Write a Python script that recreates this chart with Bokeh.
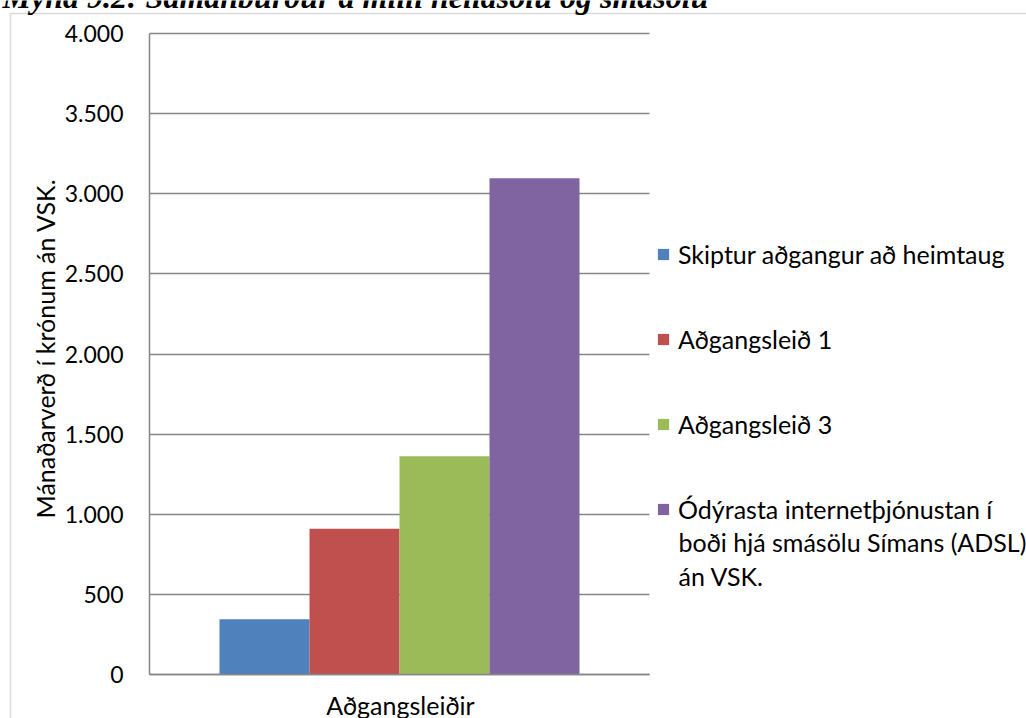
from bokeh.plotting import figure
from bokeh.models import (Range1d, FixedTicker, Label, Legend, LegendItem,
                          BoxAnnotation, Grid)
from bokeh.embed import file_html
from bokeh.resources import INLINE

# ---------------- data ----------------
title_text = "Mynd 9.2: Samanburður á milli heildsölu og smásölu"
category = ["Aðgangsleiðir"]
series_names = [
    "Skiptur aðgangur að heimtaug",
    "Aðgangsleið 1",
    "Aðgangsleið 3",
    "Ódýrasta internetþjónustan í",
]
series_name_cont = "boði hjá smásölu Símans (ADSL)\nán VSK."
series_values = [345, 909, 1362, 3097]
series_colors = ["#4F81BD", "#C0504D", "#9BBB59", "#8064A2"]
y_ticks = [0, 500, 1000, 1500, 2000, 2500, 3000, 3500, 4000]
y_tick_labels = ["0", "500", "1.000", "1.500", "2.000", "2.500", "3.000", "3.500", "4.000"]
y_axis_title = "Mánaðarverð í krónum án VSK."
x_axis_title = "Aðgangsleiðir"

# ---------------- layout ----------------
W, H = 1026, 718
FL, FR, FT, FB = 149, 649, 33, 674   # plot-area edges in pixels
Y0, Y1 = 0, 4000
NCAT = len(category)

def px_to_x(px):
    return (px - FL) / (FR - FL) * NCAT

def py_to_y(py):
    return Y0 + (FB - py) / (FB - FT) * (Y1 - Y0)

FONT = "Lato"
GRID = "#868686"

p = figure(width=W, height=H, x_range=Range1d(px_to_x(0), px_to_x(W)),
           y_range=Range1d(py_to_y(H), py_to_y(0)), output_backend="svg",
           toolbar_location=None, min_border=0)
p.outline_line_color = None
p.background_fill_color = "white"
p.border_fill_color = "white"

# outer chart-area border (only its left and top edges are inside the crop)
p.add_layout(BoxAnnotation(left=px_to_x(10), right=px_to_x(W + 60), top=py_to_y(13),
                           bottom=py_to_y(H + 60), fill_color=None, line_color=GRID,
                           line_width=1.5, level="underlay"))

# bars (clustered, one category)
bar_w = 0.18
renderers = []
for i, (val, col) in enumerate(zip(series_values, series_colors)):
    off = (i - (len(series_values) - 1) / 2) * bar_w
    xs = [k + 0.5 + off for k in range(NCAT)]
    r = p.vbar(x=xs, top=[val], bottom=0, width=bar_w, fill_color=col, line_color=None)
    renderers.append(r)

# y axis
ya = p.yaxis[0]
ya.fixed_location = 0
ya.bounds = (Y0, Y1)
ya.ticker = FixedTicker(ticks=y_ticks)
ya.major_label_overrides = {t: l for t, l in zip(y_ticks, y_tick_labels)}
ya.major_label_text_font = FONT
ya.major_label_text_font_size = "23px"
ya.major_label_text_color = "black"
ya.major_label_standoff = 26
ya.major_tick_line_color = None
ya.major_tick_out = 0
ya.major_tick_in = 0
ya.minor_tick_line_color = None
ya.axis_line_color = GRID
ya.axis_line_width = 1.5

# x axis (line only)
xa = p.xaxis[0]
xa.fixed_location = Y0
xa.bounds = (0, NCAT)
xa.ticker = FixedTicker(ticks=[])
xa.major_tick_line_color = None
xa.minor_tick_line_color = None
xa.major_tick_out = 0
xa.axis_line_color = GRID
xa.axis_line_width = 1.5

# horizontal gridlines limited to the plot area
p.xgrid.visible = False
yg = p.ygrid[0]
yg.ticker = FixedTicker(ticks=y_ticks)
yg.grid_line_color = GRID
yg.grid_line_width = 1.5
if "cross_bounds" in Grid.properties():
    yg.cross_bounds = (0, NCAT)
else:
    yg.visible = False
    p.segment(x0=0, x1=NCAT, y0=y_ticks, y1=y_ticks, line_color=GRID,
              line_width=1.5, level="underlay")

# titles
p.add_layout(Label(x=px_to_x(2), y=py_to_y(-3.5), text=title_text,
                   text_font="Liberation Serif", text_font_style="bold italic",
                   text_font_size="32px", text_color="black",
                   text_align="left", text_baseline="middle"))
p.add_layout(Label(x=px_to_x(44), y=py_to_y(348), text=y_axis_title, angle=90,
                   angle_units="deg", text_font=FONT, text_font_size="25px",
                   text_color="black", text_align="center", text_baseline="middle"))
p.add_layout(Label(x=px_to_x(400), y=py_to_y(704), text=x_axis_title,
                   text_font=FONT, text_font_size="25px", text_color="black",
                   text_align="center", text_baseline="middle"))

# legend
legend = Legend(items=[LegendItem(label=n, renderers=[r]) for n, r in zip(series_names, renderers)],
                location=(656, H - 524), glyph_width=14, glyph_height=14, label_standoff=8,
                label_text_font=FONT, label_text_font_size="25px", label_text_color="black",
                padding=0, margin=0, spacing=55, border_line_color=None,
                background_fill_alpha=0)
p.add_layout(legend)
p.add_layout(Label(x=px_to_x(678), y=py_to_y(526), text=series_name_cont,
                   text_font=FONT, text_font_size="25px", text_color="black",
                   text_line_height=1.16, text_align="left", text_baseline="top"))

open("out.html", "w").write(file_html(p, INLINE))
